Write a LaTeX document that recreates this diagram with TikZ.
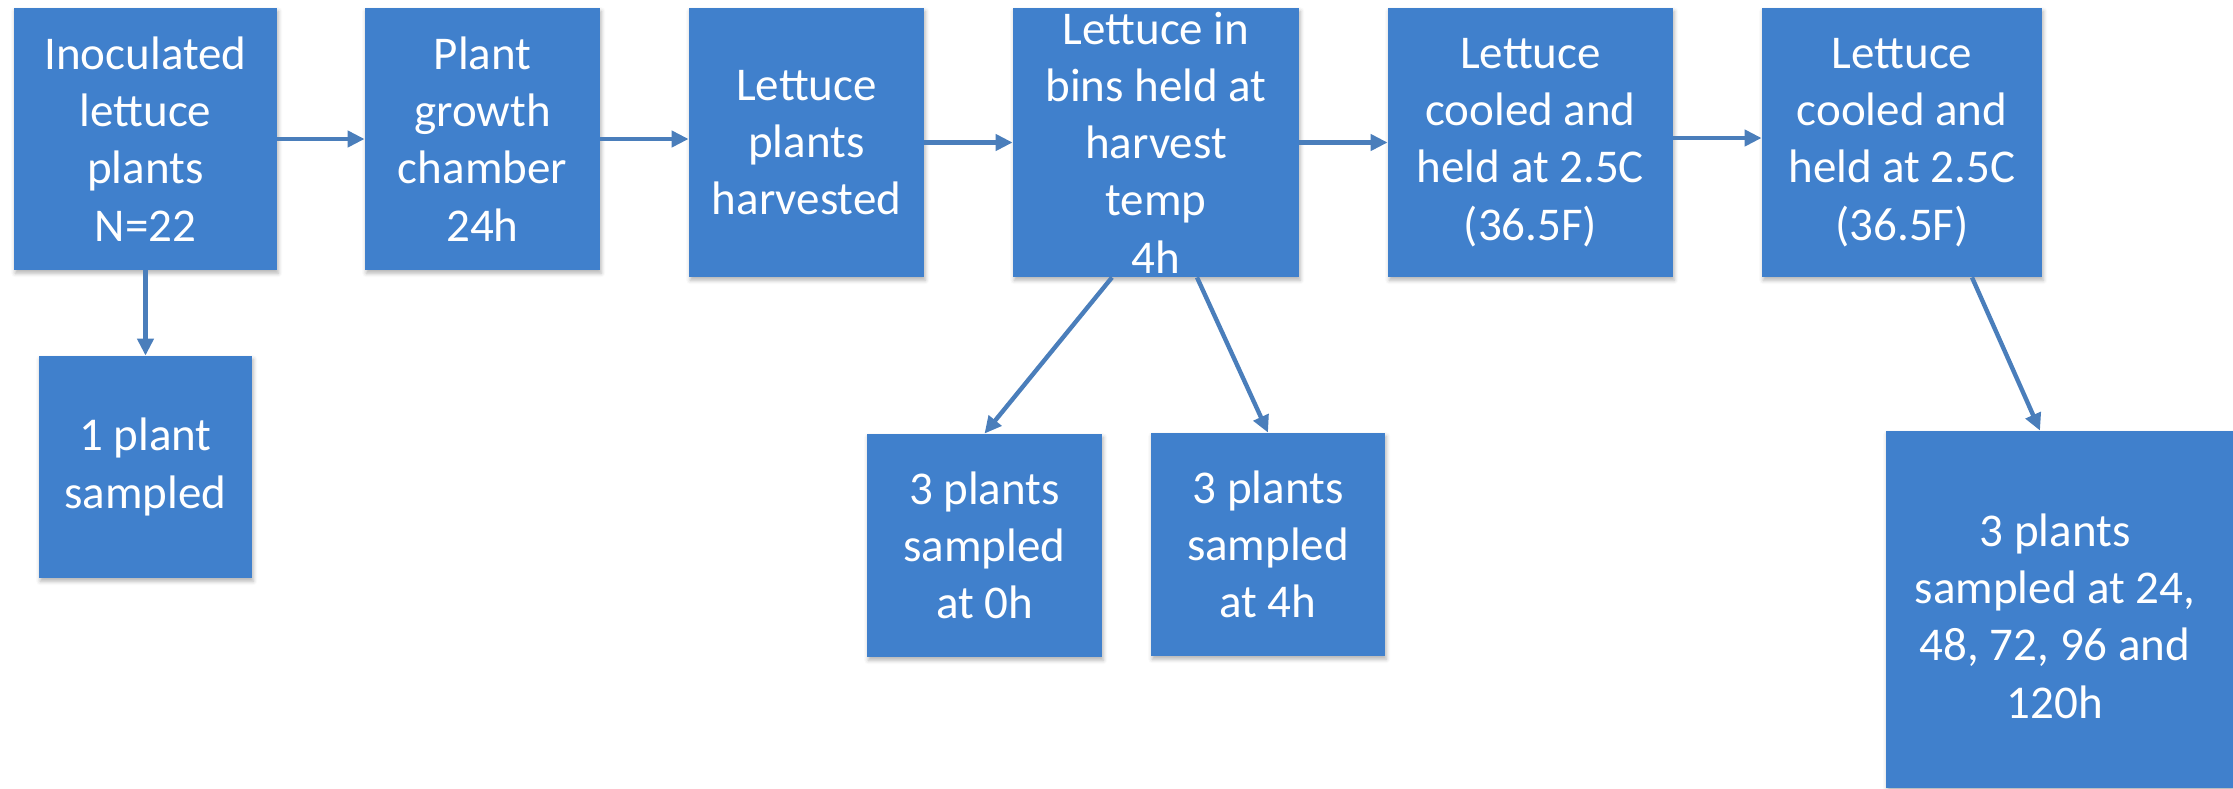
\documentclass[tikz,border=0pt]{standalone}
\usepackage{fontspec}
\setmainfont{Carlito}
\usetikzlibrary{arrows.meta,shadows.blur}

\definecolor{boxblue}{RGB}{64,128,204}
\definecolor{linkblue}{RGB}{74,126,187}

\tikzset{
  stagebox/.style={rectangle, fill=boxblue, inner sep=0pt,
    blur shadow={shadow xshift=0.6pt, shadow yshift=-1.6pt,
                 shadow blur radius=2pt, shadow opacity=30}},
  label text/.style={text=white, align=center, inner sep=0pt,
    font=\fontsize{23.5}{28.65}\selectfont},
  flow/.style={draw=linkblue, line width=2.2pt,
    -{Triangle[length=8.5pt, width=8pt]}, shorten <=0pt}
}

\begin{document}
\begin{tikzpicture}[x=0.5pt, y=-0.5pt]
\useasboundingbox (0,0) rectangle (2233,788);

% main process chain
\node[stagebox, minimum width=131.5pt, minimum height=131pt]   (b1) at (145.5,139) {};
\node[stagebox, minimum width=117.5pt, minimum height=131pt]   (b2) at (482.5,139) {};
\node[stagebox, minimum width=117.5pt, minimum height=134.5pt] (b3) at (806.5,142.5) {};
\node[stagebox, minimum width=143pt,   minimum height=134.5pt] (b4) at (1156,142.5) {};
\node[stagebox, minimum width=142.5pt, minimum height=134.5pt] (b5) at (1530.5,142.5) {};
\node[stagebox, minimum width=140pt,   minimum height=134.5pt] (b6) at (1902,142.5) {};

% sampling points
\node[stagebox, minimum width=106.5pt, minimum height=111pt]   (b8)  at (145.5,467) {};
\node[stagebox, minimum width=117.5pt, minimum height=111.5pt] (b9)  at (984.5,545.5) {};
\node[stagebox, minimum width=117pt,   minimum height=111.5pt] (b10) at (1268,544.5) {};
\node[stagebox, minimum width=173.5pt, minimum height=178.5pt] (b7)  at (2059.5,609.5) {};

% box texts
\node[label text] (t1) at (b1) {Inoculated\\lettuce\\plants\\N=22};
\node[label text] (t2) at (b2) {Plant\\growth\\chamber\\24h};
\node[label text] (t3) at (b3) {Lettuce\\plants\\harvested};
\node[label text] (t4) at (b4) {Lettuce in\\bins held at\\harvest\\temp\\4h};
\node[label text] (t5) at (b5) {Lettuce\\cooled and\\held at 2.5C\\(36.5F)};
\node[label text] (t6) at (b6) {Lettuce\\cooled and\\held at 2.5C\\(36.5F)};
\node[label text] (t8) at (b8) {1 plant\\sampled};
\node[label text] (t9) at (b9) {3 plants\\sampled\\at 0h};
\node[label text] (t10) at (b10) {3 plants\\sampled\\at 4h};
\node[label text] (t7) at (2055,616) {3 plants\\sampled at 24,\\48, 72, 96 and\\120h};

% connectors
\draw[flow] (b1.east) -- (b2.west);
\draw[flow] (b2.east) -- (b2.east -| b3.west);
\draw[flow] (b3.east) -- (b4.west);
\draw[flow] (b4.east) -- (b5.west);
\draw[flow] ([yshift=2.25pt]b5.east) -- ([yshift=2.25pt]b6.west);
\draw[flow] (b1.south) -- (b8.north);
\draw[flow] ([xshift=-22pt]b4.south) -- (b9.north);
\draw[flow] ([xshift=20.5pt]b4.south) -- (b10.north);
\draw[flow] ([xshift=35pt]b6.south) -- ([xshift=-9.75pt]b7.north);
\end{tikzpicture}
\end{document}
